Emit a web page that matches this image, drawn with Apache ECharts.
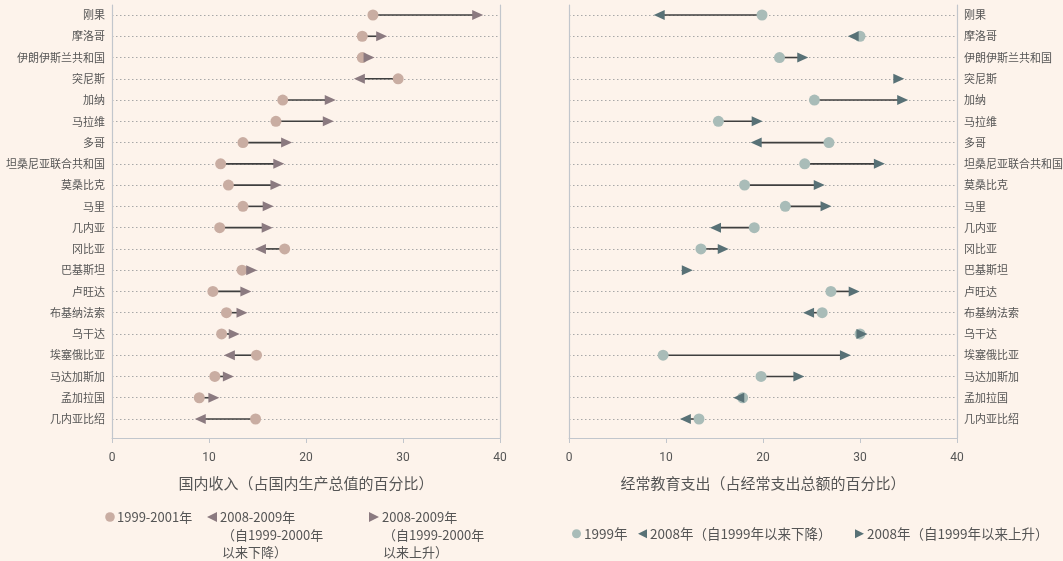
<!DOCTYPE html>
<html>
<head>
<meta charset="utf-8">
<script src="https://cdn.jsdelivr.net/npm/echarts@6/dist/echarts.min.js"></script>
<style>
  html, body { margin: 0; padding: 0; background: #fdf3eb; }
  #chart { width: 1063px; height: 561px; }
</style>
</head>
<body>
<div id="chart"></div>
<script>
// Countries, top to bottom
const countries = ['刚果', '摩洛哥', '伊朗伊斯兰共和国', '突尼斯', '加纳', '马拉维', '多哥',
  '坦桑尼亚联合共和国', '莫桑比克', '马里', '几内亚', '冈比亚', '巴基斯坦', '卢旺达',
  '布基纳法索', '乌干达', '埃塞俄比亚', '马达加斯加', '孟加拉国', '几内亚比绍'];

// Domestic revenue, % of GDP
const revenueStart = [26.9, 25.8, 25.8, 29.5, 17.6, 16.9, 13.5, 11.2, 12.0, 13.5,
  11.1, 17.8, 13.4, 10.4, 11.8, 11.3, 14.9, 10.6, 9.0, 14.8];
const revenueEnd = [37.7, 27.8, 26.5, 25.5, 22.5, 22.3, 18.0, 17.2, 16.9, 16.1,
  16.0, 15.3, 14.4, 13.8, 13.4, 12.6, 12.1, 12.0, 10.5, 9.1];

// Current education spending, % of total current spending
const eduStart = [19.9, 30.0, 21.7, null, 25.3, 15.4, 26.8, 24.3, 18.1, 22.3,
  19.1, 13.6, null, 27.0, 26.1, 30.0, 9.7, 19.8, 17.9, 13.4];
const eduEnd = [9.3, 29.3, 24.1, 34.0, 34.4, 19.4, 19.3, 32.0, 25.8, 26.5,
  15.1, 15.9, 12.2, 29.4, 24.7, 30.2, 28.5, 23.7, 17.5, 12.0];

const xTicks = [0, 10, 20, 30, 40];

const leftTitle = '国内收入（占国内生产总值的百分比）';
const rightTitle = '经常教育支出（占经常支出总额的百分比）';
const leftNames = ['1999-2001年', '2008-2009年（自1999-2000年以来下降）', '2008-2009年（自1999-2000年以来上升）'];
const rightNames = ['1999年', '2008年（自1999年以来下降）', '2008年（自1999年以来上升）'];

const FONT = "'Liberation Sans Narrow', 'Roboto', 'Noto Sans CJK SC', sans-serif";
const CJK = "'Liberation Sans Narrow', 'Noto Sans CJK SC', sans-serif";
const TEXT = '#555555';
const FRAME = '#c2c6cc';

const RIGHT_ARROW = 'path://M0,0 L10,5 L0,10 Z';
const LEFT_ARROW = 'path://M10,0 L0,5 L10,10 Z';

const panels = [
  { left: 112, start: revenueStart, end: revenueEnd, dot: '#c9ada2', arrow: '#8b7a80',
    title: leftTitle, names: leftNames, labelSide: 'left' },
  { left: 569, start: eduStart, end: eduEnd, dot: '#a9bcb8', arrow: '#587176',
    title: rightTitle, names: rightNames, labelSide: 'right' }
];

const grid = [], xAxis = [], yAxis = [], series = [];

panels.forEach((p, i) => {
  const dataGrid = i * 2, frameGrid = i * 2 + 1;
  // data grid: first and last rows sit on the top/bottom edges
  grid.push({ left: p.left, width: 388, top: 15, height: 404, containLabel: false, outerBoundsMode: 'none' });
  // frame grid: border lines and the numeric axis
  grid.push({ left: p.left, width: 388, top: 5, height: 433, containLabel: false, outerBoundsMode: 'none' });

  xAxis.push({ gridIndex: dataGrid, type: 'value', min: xTicks[0], max: xTicks[xTicks.length - 1],
    interval: 10, show: false });
  xAxis.push({ gridIndex: frameGrid, type: 'value', min: xTicks[0], max: xTicks[xTicks.length - 1],
    interval: 10,
    axisLine: { show: true, lineStyle: { color: FRAME, width: 1 } },
    axisTick: { show: true, length: 5, lineStyle: { color: FRAME } },
    axisLabel: { color: TEXT, fontSize: 12, fontFamily: FONT, margin: 14 },
    splitLine: { show: false },
    name: p.title, nameLocation: 'middle', nameGap: 38,
    nameTextStyle: { color: TEXT, fontSize: 15, fontFamily: CJK }
  });

  yAxis.push({ gridIndex: dataGrid, type: 'category', data: countries, inverse: true,
    boundaryGap: false, position: p.labelSide,
    axisLine: { show: false }, axisTick: { show: false },
    axisLabel: { color: TEXT, fontSize: 11, fontFamily: CJK, margin: 7 },
    splitLine: { show: true, lineStyle: { color: '#a8a8a8', type: [1.5, 2.5], width: 1 } }
  });
  yAxis.push({ gridIndex: frameGrid, type: 'value', position: 'left', min: 0, max: 1,
    axisLine: { show: true, lineStyle: { color: FRAME, width: 1.2 } },
    axisTick: { show: false }, axisLabel: { show: false }, splitLine: { show: false } });
  yAxis.push({ gridIndex: frameGrid, type: 'value', position: 'right', min: 0, max: 1,
    axisLine: { show: true, lineStyle: { color: FRAME, width: 1.2 } },
    axisTick: { show: false }, axisLabel: { show: false }, splitLine: { show: false } });

  const yData = i * 3;
  const segs = countries.map((c, k) => [p.start[k], p.end[k], k]).filter(d => d[0] != null && d[1] != null);

  // connectors from the earlier value to the later one
  series.push({
    type: 'custom', xAxisIndex: i * 2, yAxisIndex: yData, silent: true, z: 2,
    data: segs,
    encode: { x: [0, 1], y: 2 },
    renderItem: (params, api) => {
      const a = api.coord([api.value(0), api.value(2)]);
      const b = api.coord([api.value(1), api.value(2)]);
      return { type: 'line', shape: { x1: a[0], y1: a[1], x2: b[0], y2: b[1] },
        style: { stroke: '#3f3f3f', lineWidth: 1.6 } };
    }
  });

  // earlier value
  series.push({
    name: p.names[0], type: 'scatter', xAxisIndex: i * 2, yAxisIndex: yData, z: 3,
    symbol: 'circle', symbolSize: 11, itemStyle: { color: p.dot, opacity: 1 },
    data: countries.map((c, k) => p.start[k] == null ? null : [p.start[k], k])
  });
  // later value, decreased
  series.push({
    name: p.names[1], type: 'scatter', xAxisIndex: i * 2, yAxisIndex: yData, z: 4,
    symbol: LEFT_ARROW, symbolSize: [11, 10], symbolKeepAspect: false,
    itemStyle: { color: p.arrow, opacity: 1 },
    data: countries.map((c, k) => (p.start[k] != null && p.end[k] < p.start[k]) ? [p.end[k], k] : null)
  });
  // later value, increased (or no earlier value)
  series.push({
    name: p.names[2], type: 'scatter', xAxisIndex: i * 2, yAxisIndex: yData, z: 4,
    symbol: RIGHT_ARROW, symbolSize: [11, 10], symbolKeepAspect: false,
    itemStyle: { color: p.arrow, opacity: 1 },
    data: countries.map((c, k) => (p.start[k] == null || p.end[k] >= p.start[k]) ? [p.end[k], k] : null)
  });
});

// left-panel key: two of its entries wrap onto three lines
const keyText = (x, y, text) => ({ type: 'text', x: x, y: y,
  style: { text: text, fill: TEXT, fontSize: 13, fontFamily: CJK, verticalAlign: 'middle', align: 'left' } });
const graphic = [
  { type: 'circle', shape: { cx: 110, cy: 517, r: 4.8 }, style: { fill: panels[0].dot } },
  keyText(117, 517, '1999-2001年'),
  { type: 'polygon', shape: { points: [[207, 517], [217, 512], [217, 522]] }, style: { fill: panels[0].arrow } },
  keyText(220, 517, '2008-2009年'),
  keyText(222, 535, '（自1999-2000年'),
  keyText(222, 552, '以来下降）'),
  { type: 'polygon', shape: { points: [[369, 512], [379, 517], [369, 522]] }, style: { fill: panels[0].arrow } },
  keyText(382, 517, '2008-2009年'),
  keyText(383, 535, '（自1999-2000年'),
  keyText(383, 552, '以来上升）')
];

// right-panel key: one legend per entry so each keeps its own position
const legendBase = { top: 522, itemWidth: 9, itemHeight: 9, selectedMode: false,
  textStyle: { color: TEXT, fontSize: 13.5, fontFamily: CJK, padding: [0, 0, 0, -2] } };
const legendIcons = ['circle', LEFT_ARROW, RIGHT_ARROW];
const legendColors = [panels[1].dot, panels[1].arrow, panels[1].arrow];
const legendLefts = [567, 633, 850];
const legend = rightNames.map((n, k) => Object.assign({}, legendBase, {
  left: legendLefts[k],
  data: [{ name: n, icon: legendIcons[k], itemStyle: { color: legendColors[k] } }]
}));

const chart = echarts.init(document.getElementById('chart'), null, { renderer: 'canvas' });
chart.setOption({
  backgroundColor: '#fdf3eb',
  animation: false,
  grid: grid,
  xAxis: xAxis,
  yAxis: yAxis,
  series: series,
  graphic: graphic,
  legend: legend
});
</script>
</body>
</html>
